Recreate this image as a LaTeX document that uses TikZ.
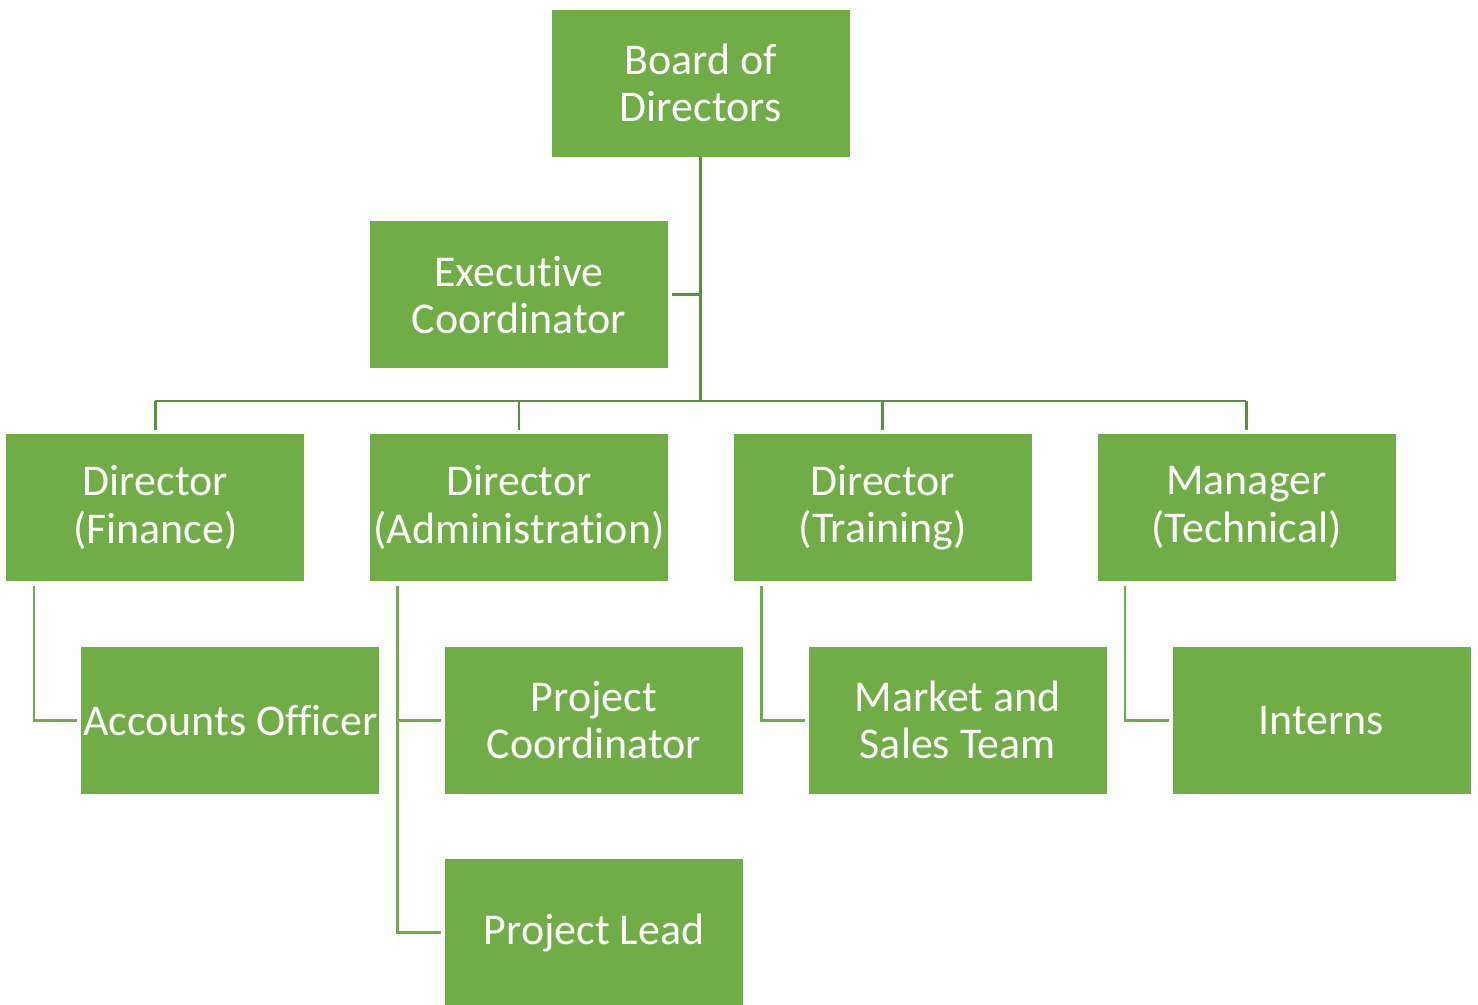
\documentclass[tikz,border=0pt]{standalone}
\usepackage{fontspec}
\setmainfont{Carlito}[Ligatures=NoCommon]
\usetikzlibrary{calc,positioning}
\definecolor{boxgreen}{HTML}{70AD47}
\definecolor{linegreen}{HTML}{5A9239}
\tikzset{
  orgbox/.style={fill=boxgreen, draw=white, line width=0.4pt,
    minimum width=5.98cm, minimum height=2.96cm, inner sep=0pt,
    align=center, text=white,
    font=\fontsize{25}{26.8}\selectfont},
  toplink/.style={draw=linegreen, line width=1.6pt},
  sublink/.style={draw=boxgreen, line width=1.6pt,
    shorten <=0.08cm, shorten >=0.06cm}
}

\begin{document}
\begin{tikzpicture}
      \useasboundingbox (0,0) rectangle (29.56,-20.08);
      \node [orgbox] (board) at (14.01,-1.66) {Board of\\Directors};
      \node [orgbox,
        below=1.26cm of board,
        xshift=-3.63cm
      ] (exec) {Executive\\Coordinator};
      \node [orgbox,
        below=1.28cm of exec
      ] (adm) {Director\\(Administration)};
      \node [orgbox,
        left=1.28cm of adm
      ] (fin) {Director\\(Finance)};
      \node [orgbox,
        right=1.28cm of adm
      ] (trn) {Director\\(Training)};
      \node [orgbox,
        right=1.28cm of trn
      ] (tech) {Manager\\(Technical)};
      \node [orgbox,
        below=1.28cm of fin,
        xshift=1.5cm
      ] (acc) {Accounts Officer};
      \node [orgbox,
        below=1.28cm of adm,
        xshift=1.5cm
      ] (pcoord) {Project\\Coordinator};
      \node [orgbox,
        below=1.28cm of trn,
        xshift=1.5cm
      ] (sales) {Market and\\Sales Team};
      \node [orgbox,
        below=1.28cm of tech,
        xshift=1.5cm
      ] (interns) {Interns};
      \node [orgbox,
        below=1.28cm of pcoord
      ] (lead) {Project Lead};

      \coordinate (bus) at ($(exec.south)!0.5!(adm.north)$);
      \draw[toplink] (board.south) -- (board.south |- bus);
      \draw[toplink, shorten <=0.06cm] (exec.east) -- (exec.east -| board.south);
      \draw[toplink] (fin.north |- bus) -- (tech.north |- bus);
      \foreach \n in {fin,adm,trn,tech}
        \draw[toplink, shorten >=0.06cm] (\n.north |- bus) -- (\n.north);

      \draw[sublink] ([xshift=0.57cm]fin.south west) |- (acc.west);
      \draw[sublink] ([xshift=0.57cm]adm.south west) |- (pcoord.west);
      \draw[sublink] ([xshift=0.57cm]adm.south west) |- (lead.west);
      \draw[sublink] ([xshift=0.57cm]trn.south west) |- (sales.west);
      \draw[sublink] ([xshift=0.57cm]tech.south west) |- (interns.west);
    \end{tikzpicture}
\end{document}
